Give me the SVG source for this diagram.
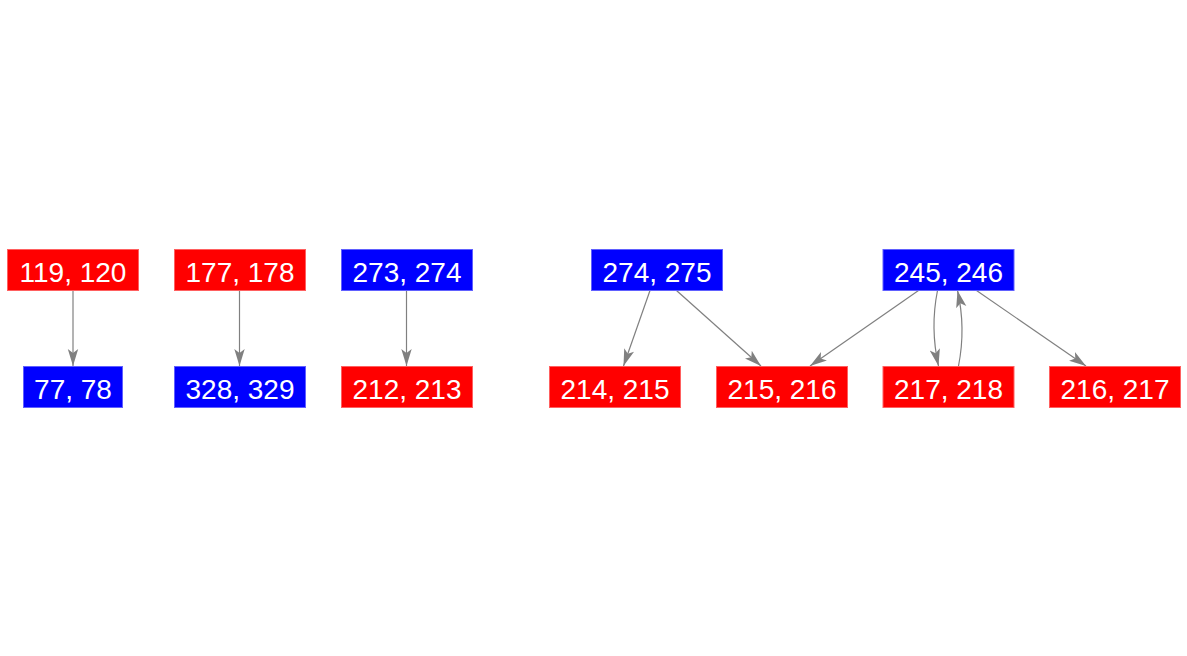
<svg xmlns="http://www.w3.org/2000/svg" width="1187" height="656" viewBox="0 0 1187 656">
<style>
.r{fill:#ff0000;stroke:#ff6060;stroke-width:1}
.b{fill:#0000ff;stroke:#6060ff;stroke-width:1}
text{font-family:"Liberation Sans",Arial,sans-serif;font-size:28px;fill:#ffffff;text-anchor:middle}
.e{fill:none;stroke:#808080;stroke-width:1.2}
</style>
<defs>
<marker id="a" markerUnits="userSpaceOnUse" markerWidth="18" markerHeight="12" refX="17" refY="6" orient="auto" viewBox="0 0 18 12">
<path d="M0,0.8 L17,6 L0,11.2 L4,6 Z" fill="#808080"/>
</marker>
</defs>
<rect width="1187" height="656" fill="#ffffff"/>
<g id="edges">
<path class="e" d="M73,290.5 L73,366" marker-end="url(#a)"/>
<path class="e" d="M239.5,290.5 L239.5,366" marker-end="url(#a)"/>
<path class="e" d="M406.5,290.5 L406.5,366" marker-end="url(#a)"/>
<path class="e" d="M650,290.5 L623.5,366" marker-end="url(#a)"/>
<path class="e" d="M676.5,290.5 L761,366" marker-end="url(#a)"/>
<path class="e" d="M918.5,290.5 L810,366" marker-end="url(#a)"/>
<path class="e" d="M937.5,290.5 Q930,328 938.5,366" marker-end="url(#a)"/>
<path class="e" d="M958.5,366 Q966,328 957.5,290.5" marker-end="url(#a)"/>
<path class="e" d="M976.5,290.5 L1086,366" marker-end="url(#a)"/>
</g>
<g id="n119"><rect class="r" x="7.5" y="249.5" width="131" height="41"/><text x="73" y="282">119, 120</text></g>
<g id="n77"><rect class="b" x="23.5" y="366.5" width="99" height="41"/><text x="73" y="399">77, 78</text></g>
<g id="n177"><rect class="r" x="174.5" y="249.5" width="131" height="41"/><text x="240" y="282">177, 178</text></g>
<g id="n328"><rect class="b" x="174.5" y="366.5" width="131" height="41"/><text x="240" y="399">328, 329</text></g>
<g id="n273"><rect class="b" x="341.5" y="249.5" width="131" height="41"/><text x="407" y="282">273, 274</text></g>
<g id="n212"><rect class="r" x="341.5" y="366.5" width="131" height="41"/><text x="407" y="399">212, 213</text></g>
<g id="n274"><rect class="b" x="591.5" y="249.5" width="131" height="41"/><text x="657" y="282">274, 275</text></g>
<g id="n214"><rect class="r" x="549.5" y="366.5" width="131" height="41"/><text x="615" y="399">214, 215</text></g>
<g id="n215"><rect class="r" x="716.5" y="366.5" width="131" height="41"/><text x="782" y="399">215, 216</text></g>
<g id="n245"><rect class="b" x="883" y="249.5" width="131" height="41"/><text x="948.5" y="282">245, 246</text></g>
<g id="n217"><rect class="r" x="883" y="366.5" width="131" height="41"/><text x="948.5" y="399">217, 218</text></g>
<g id="n216"><rect class="r" x="1049.5" y="366.5" width="131" height="41"/><text x="1115" y="399">216, 217</text></g>
</svg>
